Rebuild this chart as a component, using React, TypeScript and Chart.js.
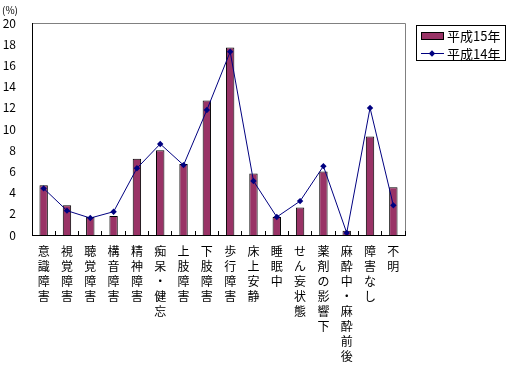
import React, { useEffect, useRef } from 'react';
import { Chart, registerables } from 'chart.js';

Chart.register(...registerables);

const categories: string[] = [
  '意識障害', '視覚障害', '聴覚障害', '構音障害', '精神障害', '痴呆・健忘',
  '上肢障害', '下肢障害', '歩行障害', '床上安静', '睡眠中', 'せん妄状態',
  '薬剤の影響下', '麻酔中・麻酔前後', '障害なし', '不明',
];
const seriesH15: number[] = [4.7, 2.8, 1.7, 1.8, 7.2, 8.0, 6.7, 12.7, 17.7, 5.8, 1.7, 2.6, 6.0, 0.4, 9.3, 4.5];
const seriesH14: number[] = [4.4, 2.3, 1.6, 2.2, 6.3, 8.6, 6.6, 11.8, 17.3, 5.1, 1.7, 3.2, 6.5, 0.2, 12.0, 2.8];
const seriesNames: string[] = ['平成15年', '平成14年'];
const yUnit = '(%)';
const yMin = 0;
const yMax = 20;
const yStep = 2;

const FONT = '"Noto Sans CJK JP", sans-serif';
const BAR_COLOR = '#993366';
const LINE_COLOR = '#000080';

const decor = {
  id: 'decor',
  afterDraw(chart: any) {
    const { ctx, chartArea: a } = chart;
    const ds = chart.data.datasets;
    ctx.save();
    // plot frame (top & right, gray)
    ctx.strokeStyle = '#808080';
    ctx.lineWidth = 1;
    ctx.beginPath();
    const t = Math.round(a.top) + 0.5;
    const r0 = Math.round(a.right) + 0.5;
    ctx.moveTo(Math.round(a.left) + 1, t);
    ctx.lineTo(r0, t);
    ctx.lineTo(r0, Math.round(a.bottom) - 4);
    ctx.stroke();
    // unit label
    ctx.fillStyle = '#000';
    ctx.font = `10px ${FONT}`;
    ctx.textAlign = 'left';
    ctx.textBaseline = 'middle';
    ctx.fillText(yUnit, 2, 10);
    // legend
    const bx = 416.5, by = 25.5, bw = 89, bh = 35;
    ctx.strokeStyle = '#000';
    ctx.fillStyle = '#fff';
    ctx.fillRect(bx, by, bw, bh);
    ctx.strokeRect(bx, by, bw, bh);
    const barDs = ds[1];
    ctx.fillStyle = barDs.backgroundColor;
    ctx.fillRect(421.5, 32.5, 22, 7);
    ctx.strokeRect(421.5, 32.5, 22, 7);
    const lineDs = ds[0];
    ctx.strokeStyle = lineDs.borderColor;
    ctx.beginPath();
    ctx.moveTo(421, 53.5);
    ctx.lineTo(444, 53.5);
    ctx.stroke();
    ctx.fillStyle = lineDs.backgroundColor;
    ctx.beginPath();
    const cx = 432, cy = 53.5, r = 3.2;
    ctx.moveTo(cx, cy - r);
    ctx.lineTo(cx + r, cy);
    ctx.lineTo(cx, cy + r);
    ctx.lineTo(cx - r, cy);
    ctx.closePath();
    ctx.fill();
    ctx.fillStyle = '#000';
    ctx.font = `13px ${FONT}`;
    ctx.textAlign = 'left';
    ctx.textBaseline = 'middle';
    ctx.fillText(barDs.label, 447, 36);
    ctx.fillText(lineDs.label, 447, 54);
    ctx.restore();
  },
};

export default function App() {
  const ref = useRef<HTMLCanvasElement | null>(null);
  useEffect(() => {
    if (!ref.current) return;
    const chart = new Chart(ref.current, {
      type: 'bar',
      data: {
        labels: categories.map((c) => Array.from(c)),
        datasets: [
          {
            type: 'line',
            label: seriesNames[1],
            data: seriesH14,
            borderColor: LINE_COLOR,
            backgroundColor: LINE_COLOR,
            borderWidth: 1,
            pointStyle: 'rectRot',
            pointRadius: 3.2,
            pointBorderWidth: 0,
            pointBackgroundColor: LINE_COLOR,
            tension: 0,
            order: 0,
          } as any,
          {
            type: 'bar',
            label: seriesNames[0],
            data: seriesH15,
            backgroundColor: BAR_COLOR,
            borderColor: '#000',
            borderWidth: 1,
            barPercentage: 0.36,
            categoryPercentage: 1,
            order: 1,
          } as any,
        ],
      },
      options: {
        responsive: false,
        animation: false,
        devicePixelRatio: 1,
        layout: { padding: { top: 21, left: 0, right: 109, bottom: 0 } },
        plugins: {
          legend: { display: false },
          tooltip: { enabled: false },
          title: { display: false },
        },
        scales: {
          x: {
            offset: true,
            grid: {
              display: true,
              offset: true,
              drawOnChartArea: false,
              drawTicks: true,
              tickLength: -4,
              color: '#000',
            },
            border: { display: true, color: '#000', width: 1 },
            ticks: {
              autoSkip: false,
              maxRotation: 0,
              minRotation: 0,
              padding: 13,
              color: '#000',
              font: { family: FONT, size: 12, lineHeight: 1.25 },
            },
            afterFit(scale: any) {
              scale.height = 132;
            },
          },
          y: {
            min: yMin,
            max: yMax,
            grid: { display: false, drawTicks: false },
            border: { display: true, color: '#000', width: 1 },
            ticks: {
              stepSize: yStep,
              padding: 16,
              color: '#000',
              font: { family: FONT, size: 12 },
            },
            afterFit(scale: any) {
              scale.width = 32;
            },
          },
        },
      },
      plugins: [decor],
    });
    return () => chart.destroy();
  }, []);
  return (
    <div style={{ position: 'fixed', left: 0, top: 0, width: 514, height: 367, background: '#fff' }}>
      <canvas ref={ref} width={514} height={367} style={{ display: 'block' }} />
    </div>
  );
}
